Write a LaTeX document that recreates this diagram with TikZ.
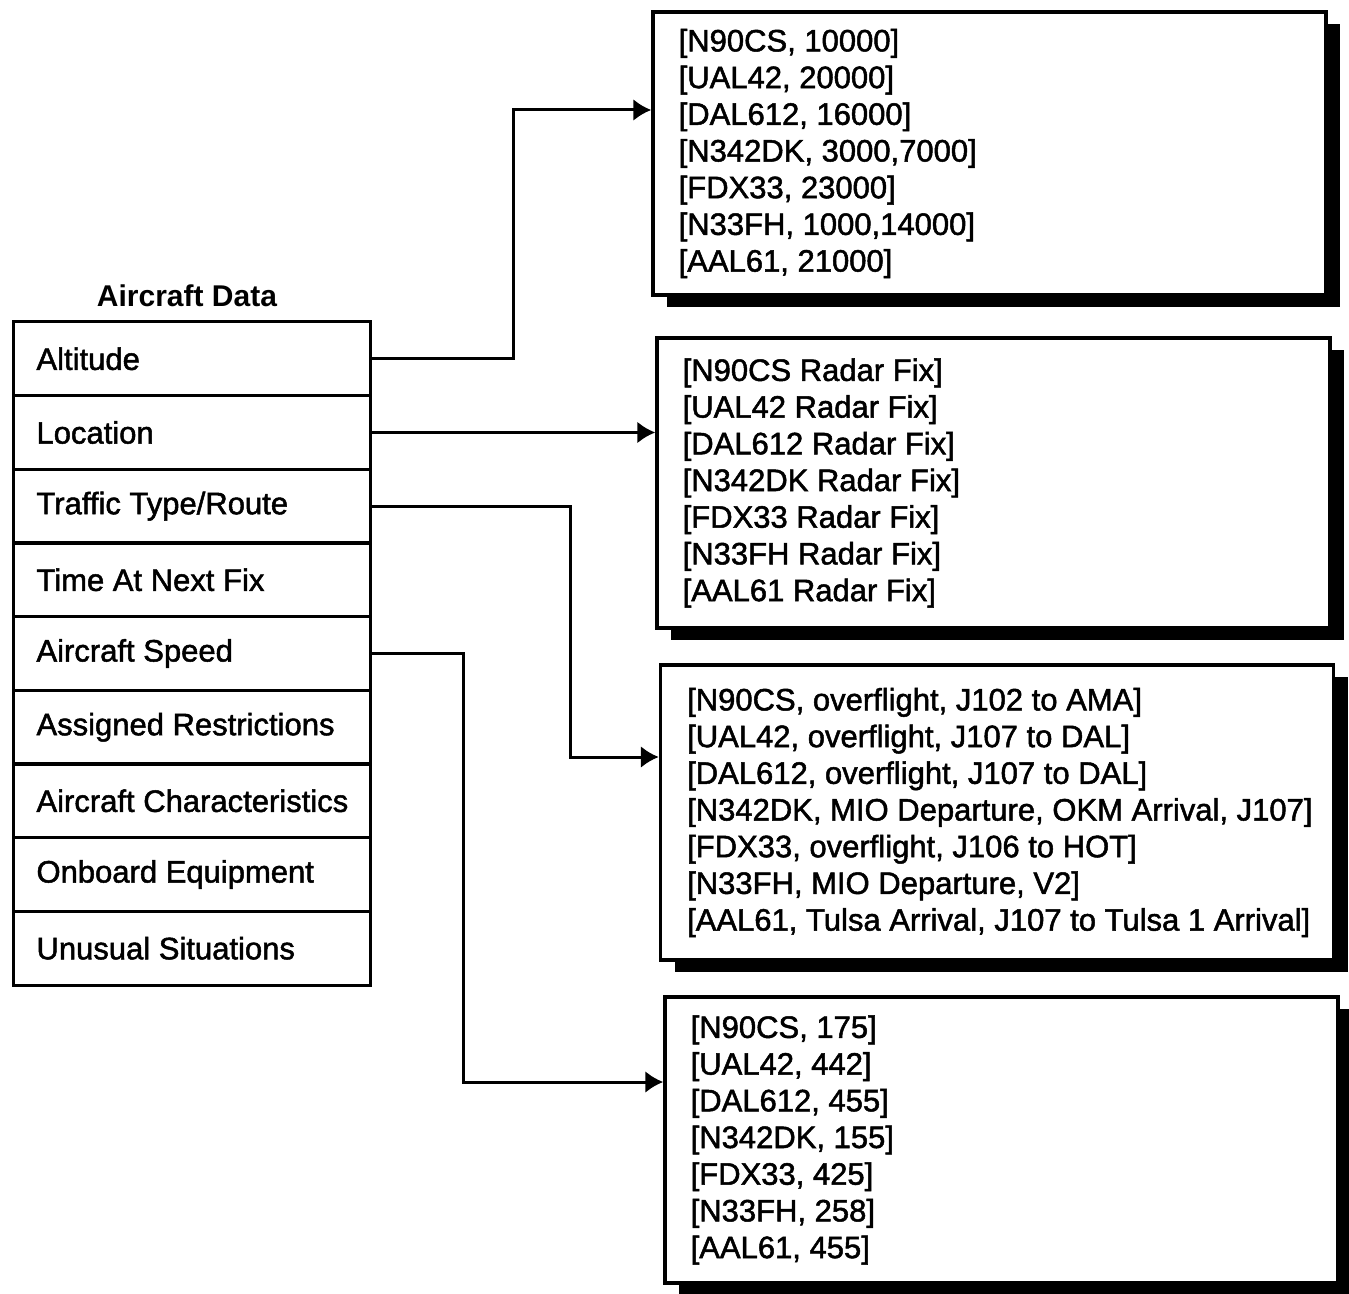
\documentclass[tikz,border=0pt]{standalone}
\usepackage{fontspec}
\setmainfont{Liberation Sans}
\newfontfamily\scanfont{Liberation Sans}[FakeBold=1.6]
\usetikzlibrary{arrows.meta,shadows}
\newcommand\rowlab[1]{\makebox[155pt][l]{#1}}
\begin{document}
\begin{tikzpicture}[x=0.5pt,y=-0.5pt,
  every node/.style={font=\scanfont\fontsize{15.5}{18.35}\selectfont},
  rowbox/.style={draw, line width=1.5pt, minimum width=178.5pt, minimum height=36.85pt, inner xsep=11.5pt, inner ysep=0pt},
  databox/.style={draw, line width=1.75pt, fill=white, minimum width=336.5pt,
    drop shadow={shadow xshift=7pt, shadow yshift=-6pt, fill=black, opacity=1}},
  datatext/.style={anchor=west, align=left, inner sep=0pt},
  conn/.style={line width=1.5pt, -{Latex[length=9pt,width=11pt]}}]
\useasboundingbox (0,0) rectangle (1349,1294);

% title
\node[font=\bfseries\fontsize{15}{18}\selectfont] (title) at (187,296) {Aircraft Data};

% left table
\node[rowbox] (r1) at (191.5,358.8) {\rowlab{Altitude}};
\node[rowbox] (r2) at (191.5,432.5) {\rowlab{Location}};
\node[rowbox] (r3) at (191.5,506.2) {\rowlab{Traffic Type/Route}};
\node[rowbox] (r4) at (191.5,579.8) {\rowlab{Time At Next Fix}};
\node[rowbox] (r5) at (191.5,653.5) {\rowlab{Aircraft Speed}};
\node[rowbox] (r6) at (191.5,727.2) {\rowlab{Assigned Restrictions}};
\node[rowbox] (r7) at (191.5,800.8) {\rowlab{Aircraft Characteristics}};
\node[rowbox] (r8) at (191.5,874.5) {\rowlab{Onboard Equipment}};
\node[rowbox] (r9) at (191.5,948.2) {\rowlab{Unusual Situations}};

% data boxes
\node[databox, minimum height=141.5pt] (b1) at (989.5,153.5) {};
\node[databox, minimum height=145pt]   (b2) at (993.5,483) {};
\node[databox, minimum height=147.5pt] (b3) at (997,812.5) {};
\node[databox, minimum height=143pt]   (b4) at (1001.5,1140) {};

\node[datatext] (t1) at ([xshift=13.5pt]b1.west) {[N90CS, 10000]\\{}[UAL42, 20000]\\{}[DAL612, 16000]\\{}[N342DK, 3000,7000]\\{}[FDX33, 23000]\\{}[N33FH, 1000,14000]\\{}[AAL61, 21000]};
\node[datatext] (t2) at ([xshift=13.5pt]b2.west) {[N90CS Radar Fix]\\{}[UAL42 Radar Fix]\\{}[DAL612 Radar Fix]\\{}[N342DK Radar Fix]\\{}[FDX33 Radar Fix]\\{}[N33FH Radar Fix]\\{}[AAL61 Radar Fix]};
\node[datatext] (t3) at ([xshift=14pt]b3.west) {[N90CS, overflight, J102 to AMA]\\{}[UAL42, overflight, J107 to DAL]\\{}[DAL612, overflight, J107 to DAL]\\{}[N342DK, MIO Departure, OKM Arrival, J107]\\{}[FDX33, overflight, J106 to HOT]\\{}[N33FH, MIO Departure, V2]\\{}[AAL61, Tulsa Arrival, J107 to Tulsa 1 Arrival]};
\node[datatext] (t4) at ([xshift=13.5pt]b4.west) {[N90CS, 175]\\{}[UAL42, 442]\\{}[DAL612, 455]\\{}[N342DK, 155]\\{}[FDX33, 425]\\{}[N33FH, 258]\\{}[AAL61, 455]};

% connectors
\draw[conn] (r1.east) -| (513,110) -- (b1.west |- 513,110);
\draw[conn] (r2.east) -- (b2.west |- r2.east);
\draw[conn] (r3.east) -| (570,757) -- (b3.west |- 570,757);
\draw[conn] (r5.east) -| (463,1082) -- (b4.west |- 463,1082);
\end{tikzpicture}
\end{document}
